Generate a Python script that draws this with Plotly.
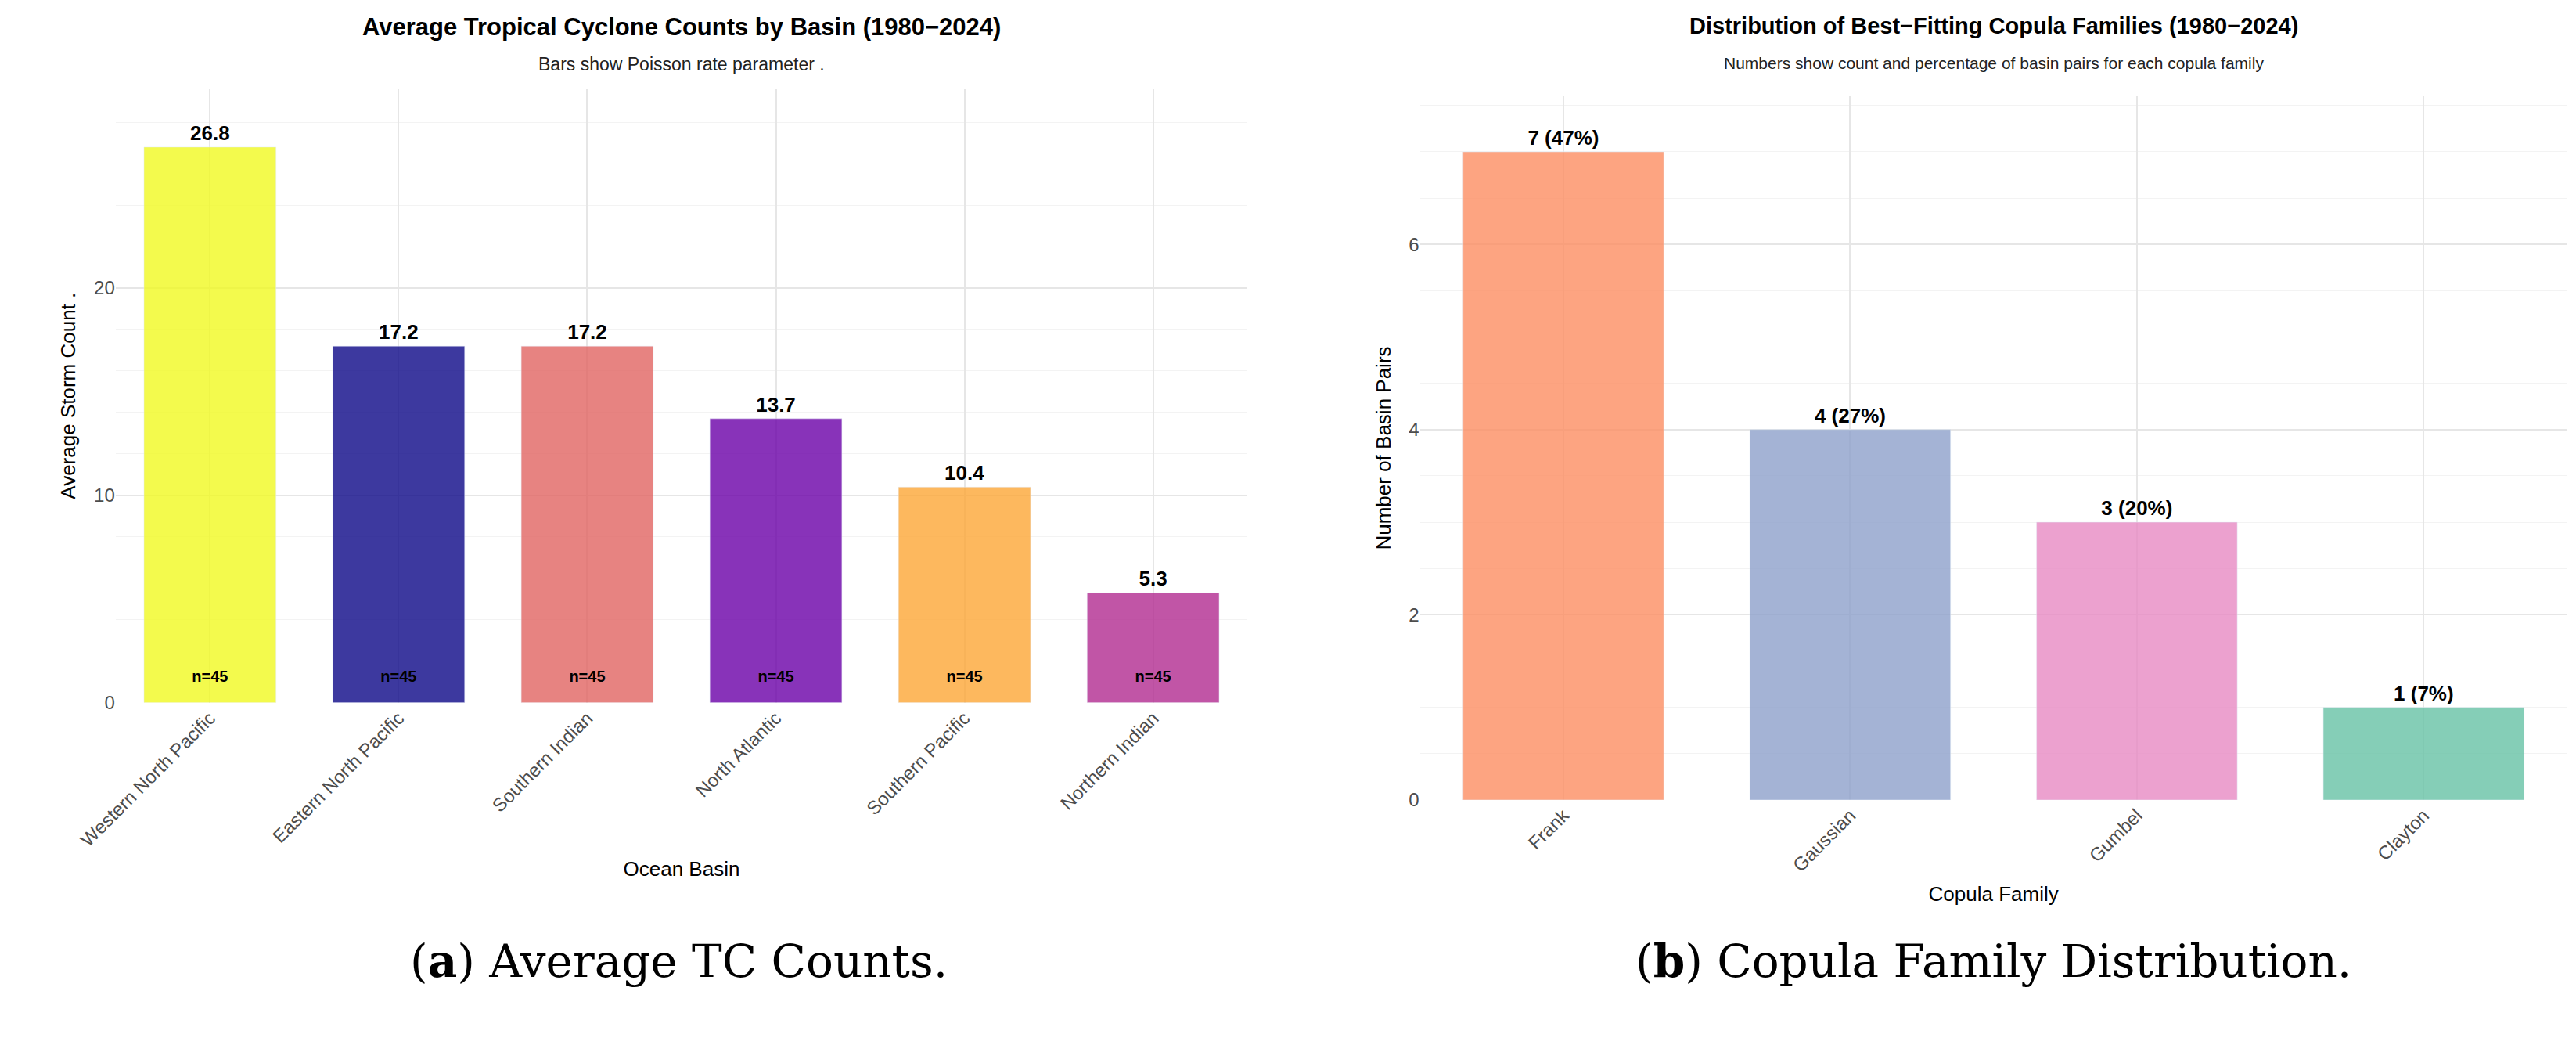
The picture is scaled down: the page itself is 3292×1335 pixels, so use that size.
import plotly.graph_objects as go
from plotly.subplots import make_subplots

basins = ["Western North Pacific", "Eastern North Pacific", "Southern Indian",
          "North Atlantic", "Southern Pacific", "Northern Indian"]
avg_counts = [26.8, 17.2, 17.2, 13.7, 10.4, 5.3]
n_years = [45, 45, 45, 45, 45, 45]
basin_colors = ["rgba(240,249,33,0.8)", "rgba(13,8,135,0.8)", "rgba(225,100,98,0.8)",
                "rgba(106,0,168,0.8)", "rgba(252,166,54,0.8)", "rgba(177,42,144,0.8)"]

families = ["Frank", "Gaussian", "Gumbel", "Clayton"]
family_counts = [7, 4, 3, 1]
family_pct = [47, 27, 20, 7]
family_colors = ["rgba(252,141,98,0.8)", "rgba(141,160,203,0.8)",
                 "rgba(231,138,195,0.8)", "rgba(102,194,165,0.8)"]

fig = make_subplots(rows=1, cols=2)

fig.add_trace(go.Bar(x=basins, y=avg_counts, marker_color=basin_colors, width=0.7,
                     text=[f"<b>{v}</b>" for v in avg_counts], textposition="outside",
                     textfont=dict(size=26, color="black"), cliponaxis=False),
              row=1, col=1)
fig.add_trace(go.Scatter(x=basins, y=[1.2] * len(basins), mode="text",
                         text=[f"<b>n={n}</b>" for n in n_years],
                         textfont=dict(size=20, color="black")),
              row=1, col=1)
fig.add_trace(go.Bar(x=families, y=family_counts, marker_color=family_colors, width=0.7,
                     text=[f"<b>{c} ({p}%)</b>" for c, p in zip(family_counts, family_pct)],
                     textposition="outside", textfont=dict(size=26, color="black"),
                     cliponaxis=False),
              row=1, col=2)

fig.update_layout(
    width=3292, height=1335, showlegend=False, plot_bgcolor="white", paper_bgcolor="white",
    font=dict(family="Liberation Sans, Arial", size=24, color="#333"),
    margin=dict(l=0, r=0, t=0, b=0),
    xaxis=dict(domain=[0.028, 0.474]),
    xaxis2=dict(domain=[0.542, 0.994]),
    yaxis=dict(domain=[0.327, 0.92], range=[0, 29.6], tickvals=[0, 10, 20]),
    yaxis2=dict(domain=[0.233, 0.913], range=[0, 7.6], tickvals=[0, 2, 4, 6]),
)
for ax in ["xaxis", "xaxis2"]:
    fig.layout[ax].update(tickangle=-45, showgrid=True, gridcolor="#e6e6e6", gridwidth=2,
                          zeroline=False, tickfont=dict(size=24, color="#4d4d4d"))
for ax in ["yaxis", "yaxis2"]:
    fig.layout[ax].update(showgrid=True, gridcolor="#e6e6e6", gridwidth=2, zeroline=False,
                          tickfont=dict(size=24, color="#4d4d4d"),
                          minor=dict(showgrid=True, gridcolor="#f3f3f3", gridwidth=1))
fig.update_xaxes(title_text="Ocean Basin", title_font=dict(size=26, color="black"), row=1, col=1)
fig.update_yaxes(title_text="Average Storm Count .", title_font=dict(size=26, color="black"), row=1, col=1)
fig.update_xaxes(title_text="Copula Family", title_font=dict(size=26, color="black"), row=1, col=2)
fig.update_yaxes(title_text="Number of Basin Pairs", title_font=dict(size=26, color="black"), row=1, col=2)

ann = [
    (0.251, 0.995, "<b>Average Tropical Cyclone Counts by Basin (1980\u22122024)</b>", 31, "black"),
    (0.251, 0.955, "Bars show Poisson rate parameter .", 23, "#222"),
    (0.768, 0.995, "<b>Distribution of Best\u2212Fitting Copula Families (1980\u22122024)</b>", 29, "black"),
    (0.768, 0.955, "Numbers show count and percentage of basin pairs for each copula family", 21, "#222"),
]
for x, y, t, s, c in ann:
    fig.add_annotation(x=x, y=y, xref="paper", yref="paper", text=t, showarrow=False,
                       xanchor="center", yanchor="top", font=dict(size=s, color=c))
fig.add_annotation(x=0.25, y=0.05, xref="paper", yref="paper", showarrow=False,
                   xanchor="center", text="(<b>a</b>) Average TC Counts.",
                   font=dict(family="DejaVu Serif", size=58, color="black"))
fig.add_annotation(x=0.768, y=0.05, xref="paper", yref="paper", showarrow=False,
                   xanchor="center", text="(<b>b</b>) Copula Family Distribution.",
                   font=dict(family="DejaVu Serif", size=58, color="black"))

fig.write_html("out.html")
